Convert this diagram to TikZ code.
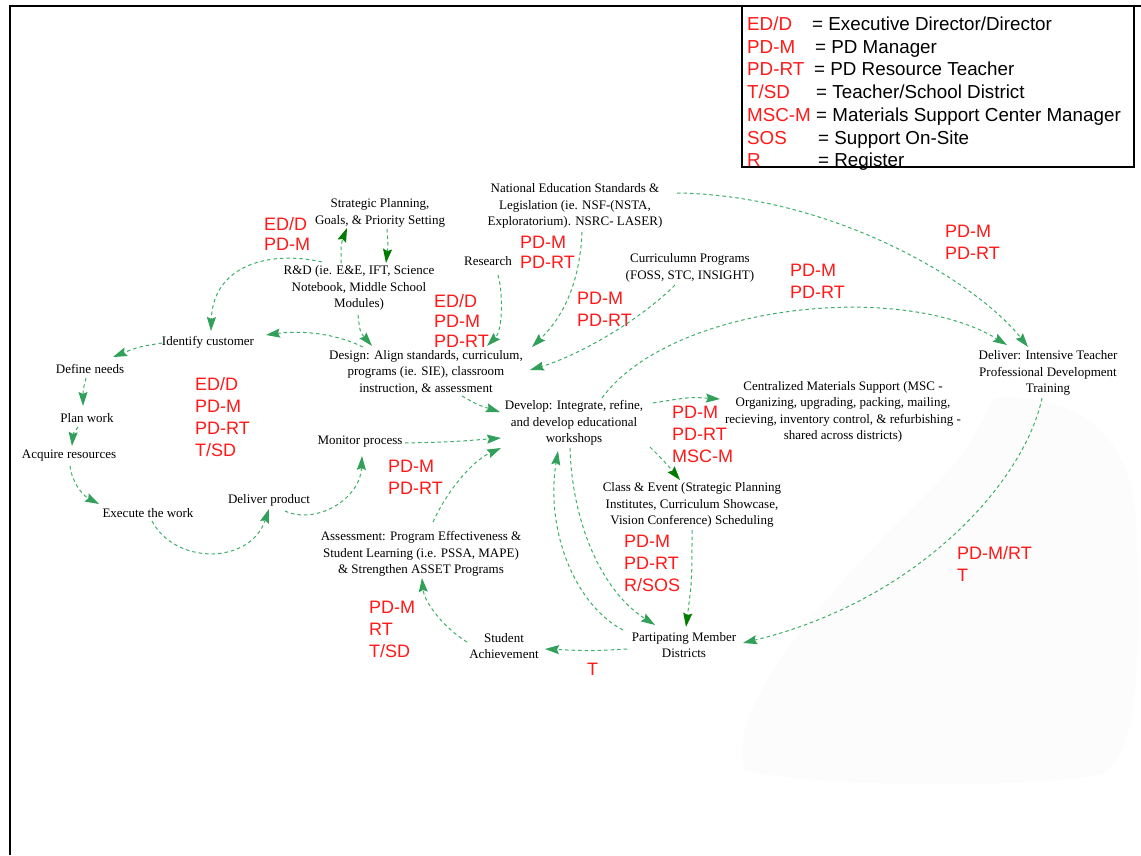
\documentclass[tikz,border=0pt]{standalone}
\usepackage{fontspec}
\setmainfont{Liberation Serif}
\newfontfamily\arialfont{Liberation Sans}
\usetikzlibrary{arrows.meta}
\definecolor{lgreen}{RGB}{60,175,105}
\definecolor{tipgreen}{RGB}{50,160,90}
\definecolor{dkgreen}{RGB}{0,125,0}
\definecolor{rolered}{RGB}{255,25,25}
\definecolor{haze}{RGB}{252,252,252}
\tikzset{
  lbl/.style={font=\fontsize{13}{16.5}\selectfont, align=center, inner sep=0pt},
  role/.style={font=\arialfont\fontsize{18}{22}\selectfont, text=rolered, align=left, anchor=west, inner sep=0pt},
  tightrole/.style={role, font=\arialfont\fontsize{18}{20}\selectfont},
  keytext/.style={font=\arialfont\fontsize{18.8}{22}\selectfont, anchor=base west, inner sep=0pt},
  keyabbr/.style={keytext, text=rolered},
  conn/.style={draw=lgreen, dash pattern=on 3.5pt off 3pt, line width=1pt,
    -{Stealth[length=14pt,width=9pt,inset=2pt,color=tipgreen]}},
  dk/.style={-{Stealth[length=14pt,width=9pt,inset=2pt,color=dkgreen]}}
}
\begin{document}
\begin{tikzpicture}[x=1pt,y=-1pt]
\useasboundingbox (0,0) rectangle (1141,855);
\fill[white] (0,0) rectangle (1141,855);

% faint background blob, lower right
\fill[haze] (995,398) .. controls (1060,395) and (1130,420) .. (1136,520)
  .. controls (1141,640) and (1141,760) .. (1100,775)
  .. controls (1000,790) and (800,785) .. (745,770)
  .. controls (720,700) and (860,560) .. (940,480)
  .. controls (975,445) and (985,410) .. cycle;

% page frame
\draw[line width=2pt] (10,855) -- (10,6) -- (1141,6);

% legend
\draw[line width=1.2pt] (742,6) rectangle (1134,167);
\node[keyabbr] (ka) at (747,30.5) {ED/D};
\node[keytext] (ea) at (812,30.5) {= Executive Director/Director};
\node[keyabbr] (kb) at (747,53.5) {PD-M};
\node[keytext] (eb) at (815,53.5) {= PD Manager};
\node[keyabbr] (kc) at (747,75.5) {PD-RT};
\node[keytext] (ec) at (814,75.5) {= PD Resource Teacher};
\node[keyabbr] (kd) at (747,98.5) {T/SD};
\node[keytext] (ed) at (816,98.5) {= Teacher/School District};
\node[keyabbr] (ke) at (747,121.5) {MSC-M};
\node[keytext] (ee) at (816,121.5) {= Materials Support Center Manager};
\node[keyabbr] (kf) at (747,144.5) {SOS};
\node[keytext] (ef) at (818,144.5) {= Support On-Site};
\node[keyabbr] (kg) at (747,166.5) {R};
\node[keytext] (eg) at (818,166.5) {= Register};

% activity texts
\node[lbl] (strat) at (380,213) {Strategic Planning,\\Goals, \& Priority Setting};
\node[lbl] (rd) at (359,288) {R\&D (ie. E\&E, IFT, Science\\Notebook, Middle School\\Modules)};
\node[lbl] (ident) at (208,342) {Identify customer};
\node[lbl] (define) at (90,369) {Define needs};
\node[lbl] (plan) at (87,418) {Plan work};
\node[lbl] (acquire) at (69,456) {Acquire resources};
\node[lbl] (execute) at (148,513) {Execute the work};
\node[lbl] (deliverp) at (269,500) {Deliver product};
\node[lbl] (monitor) at (360,442) {Monitor process};
\node[lbl] (design) at (426,372) {Design: Align standards, curriculum,\\programs (ie. SIE), classroom\\instruction, \& assessment};
\node[lbl] (develop) at (574,423) {Develop: Integrate, refine,\\and develop educational\\workshops};
\node[lbl] (research) at (488,261) {Research};
\node[lbl] (nated) at (575,206) {National Education Standards \&\\Legislation (ie. NSF-(NSTA,\\Exploratorium). NSRC- LASER)};
\node[lbl] (curric) at (690,268) {Curriculumn Programs\\(FOSS, STC, INSIGHT)};
\node[lbl] (delivt) at (1048,373) {Deliver: Intensive Teacher\\Professional Development\\Training};
\node[lbl] (central) at (843,412) {Centralized Materials Support (MSC -\\Organizing, upgrading, packing, mailing,\\recieving, inventory control, \& refurbishing -\\shared across districts)};
\node[lbl] (classev) at (692,505) {Class \& Event (Strategic Planning\\Institutes, Curriculum Showcase,\\Vision Conference) Scheduling};
\node[lbl] (partic) at (684,645) {Partipating Member\\Districts};
\node[lbl] (student) at (504,646) {Student\\Achievement};
\node[lbl] (assess) at (421,554) {Assessment: Program Effectiveness \&\\Student Learning (i.e. PSSA, MAPE)\\\& Strengthen ASSET Programs};

% responsibility labels
\node[tightrole] (r1) at (264,233.5) {ED/D\\PD-M};
\node[tightrole] (r2) at (434,320.5) {ED/D\\PD-M\\PD-RT};
\node[tightrole] (r3) at (520,252) {PD-M\\PD-RT};
\node[role] (r4) at (577,309) {PD-M\\PD-RT};
\node[role] (r5) at (790,281) {PD-M\\PD-RT};
\node[role] (r6) at (945,242.5) {PD-M\\PD-RT};
\node[role] (r7) at (195,417) {ED/D\\PD-M\\PD-RT\\T/SD};
\node[role] (r8) at (672,434) {PD-M\\PD-RT\\MSC-M};
\node[role] (r9) at (388,477.5) {PD-M\\PD-RT};
\node[role] (r10) at (624,563) {PD-M\\PD-RT\\R/SOS};
\node[role] (r11) at (369,629) {PD-M\\RT\\T/SD};
\node[role] (r12) at (587,669) {T};
\node[role] (r13) at (957,564) {PD-M/RT\\T};

% planning loop at the top
\draw[conn,dk] ([shift={(-18,-25)}]rd.center) .. controls (341,243) .. ([shift={(-33,15)}]strat.center);
\draw[conn,dk] ([shift={(7,16)}]strat.center) .. controls (388,245) .. ([shift={(27,-25)}]rd.center);
\draw[conn] ([shift={(-37,-26)}]rd.center) .. controls (270,250) and (213,265) .. ([shift={(3,-11)}]ident.center);
\draw[conn] ([shift={(-1,27)}]rd.center) .. controls (360,332) .. ([shift={(-54,-26)}]design.center);
\draw[conn] ([shift={(-63,-25)}]design.center) .. controls (330,331) and (295,331) .. ([shift={(58,-7)}]ident.center);

% customer cycle on the left
\draw[conn] ([shift={(-46,1)}]ident.center) .. controls (138,347) .. ([shift={(23,-12)}]define.center);
\draw[conn] ([shift={(-4,9)}]define.center) .. controls (83,390) .. ([shift={(-4,-12)}]plan.center);
\draw[conn] ([shift={(-9,9)}]plan.center) .. controls (73,434) .. ([shift={(3,-10)}]acquire.center);
\draw[conn] ([shift={(1,10)}]acquire.center) .. controls (72,482) and (82,495) .. ([shift={(-49,-9)}]execute.center);
\draw[conn] ([shift={(4,8)}]execute.center) .. controls (175,565) and (250,565) .. ([shift={(0,9)}]deliverp.center);
\draw[conn] ([shift={(16,11)}]deliverp.center) .. controls (315,525) and (360,500) .. ([shift={(2,14)}]monitor.center);
\draw[conn] ([shift={(45,1)}]monitor.center) .. controls (450,442) .. ([shift={(-73,15)}]develop.center);

% inputs to design
\draw[conn] ([shift={(36,24)}]design.center) .. controls (478,405) .. ([shift={(-74,-11)}]develop.center);
\draw[conn] ([shift={(10,14)}]research.center) .. controls (503,292) and (503,330) .. ([shift={(61,-26)}]design.center);
\draw[conn] ([shift={(7,26)}]nated.center) .. controls (580,280) and (565,315) .. ([shift={(106,-25)}]design.center);
\draw[conn] ([shift={(-15,17)}]curric.center) .. controls (640,320) and (580,355) .. ([shift={(104,-2)}]design.center);

% links to teacher training
\draw[conn] ([shift={(102,-13)}]nated.center) .. controls (830,195) and (975,280) .. ([shift={(-20,-26)}]delivt.center);
\draw[conn] ([shift={(28,-25)}]develop.center) .. controls (670,305) and (900,280) .. ([shift={(-41,-28)}]delivt.center);

% outputs of develop
\draw[conn] ([shift={(79,-20)}]develop.center) .. controls (690,397) .. ([shift={(-123,-13)}]central.center);
\draw[conn,dk] ([shift={(76,24)}]develop.center) .. controls (665,462) .. ([shift={(-12,-25)}]classev.center);
\draw[conn,dk] ([shift={(0,25)}]classev.center) .. controls (692,580) .. ([shift={(2,-18)}]partic.center);
\draw[conn] ([shift={(-4,25)}]develop.center) .. controls (572,520) and (600,590) .. ([shift={(-29,-20)}]partic.center);
\draw[conn] ([shift={(-61,-15)}]partic.center) .. controls (575,605) and (545,530) .. ([shift={(-16,28)}]develop.center);

% district feedback
\draw[conn] ([shift={(-6,25)}]delivt.center) .. controls (1025,480) and (920,600) .. ([shift={(59,-2)}]partic.center);
\draw[conn] ([shift={(-57,4)}]partic.center) .. controls (590,651) .. ([shift={(41,3)}]student.center);
\draw[conn] ([shift={(-37,-4)}]student.center) .. controls (440,625) and (424,600) .. ([shift={(1,24)}]assess.center);
\draw[conn] ([shift={(12,-32)}]assess.center) .. controls (445,495) and (470,462) .. ([shift={(-73,25)}]develop.center);
\end{tikzpicture}
\end{document}
